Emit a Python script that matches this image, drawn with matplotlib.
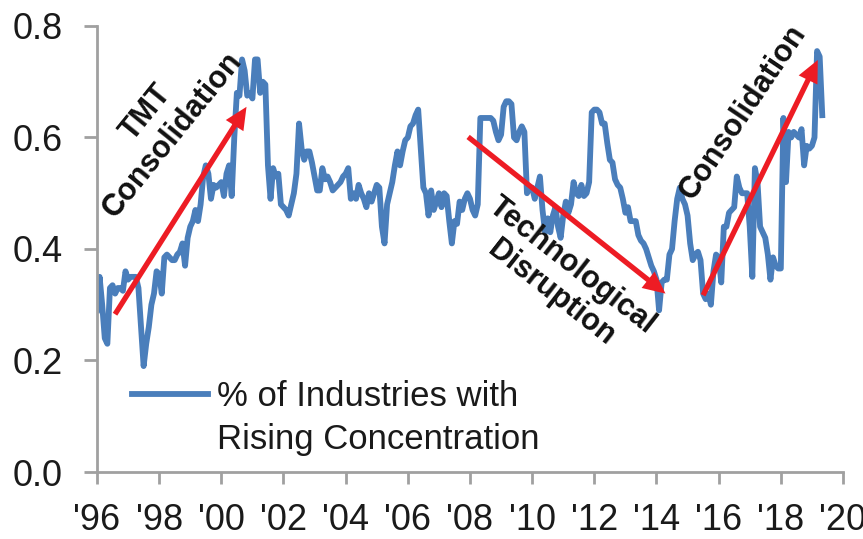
import numpy as np
import matplotlib.pyplot as plt
from matplotlib.legend_handler import HandlerLine2D

# monthly share of industries with rising concentration, starting Jan 1996
share = [
    0.29, 0.35, 0.30, 0.24, 0.23, 0.33, 0.335, 0.32, 0.33, 0.33, 0.325, 0.36,      # 1996
    0.345, 0.35, 0.35, 0.35, 0.33, 0.26, 0.19, 0.23, 0.26, 0.30, 0.32, 0.36,       # 1997
    0.355, 0.32, 0.385, 0.39, 0.385, 0.38, 0.38, 0.39, 0.395, 0.41, 0.37, 0.42,    # 1998
    0.44, 0.45, 0.47, 0.45, 0.48, 0.53, 0.55, 0.535, 0.49, 0.515, 0.51, 0.515,     # 1999
    0.52, 0.495, 0.535, 0.55, 0.495, 0.60, 0.68, 0.675, 0.74, 0.72, 0.675, 0.68,   # 2000
    0.67, 0.74, 0.74, 0.68, 0.70, 0.695, 0.55, 0.49, 0.545, 0.53, 0.535, 0.48,     # 2001
    0.475, 0.47, 0.46, 0.48, 0.50, 0.535, 0.625, 0.58, 0.56, 0.575, 0.575, 0.555,  # 2002
    0.53, 0.505, 0.505, 0.545, 0.525, 0.53, 0.52, 0.505, 0.51, 0.515, 0.52, 0.53,  # 2003
    0.535, 0.545, 0.49, 0.50, 0.49, 0.515, 0.50, 0.49, 0.475, 0.50, 0.485, 0.50,   # 2004
    0.515, 0.51, 0.44, 0.41, 0.48, 0.50, 0.52, 0.55, 0.575, 0.55, 0.575, 0.595,    # 2005
    0.60, 0.62, 0.625, 0.64, 0.65, 0.58, 0.51, 0.50, 0.46, 0.505, 0.47, 0.485,     # 2006
    0.50, 0.475, 0.50, 0.495, 0.45, 0.41, 0.45, 0.445, 0.485, 0.47, 0.49, 0.50,    # 2007
    0.49, 0.47, 0.46, 0.48, 0.635, 0.635, 0.635, 0.635, 0.635, 0.63, 0.61, 0.595,  # 2008
    0.605, 0.655, 0.665, 0.665, 0.66, 0.60, 0.595, 0.61, 0.62, 0.61, 0.50, 0.51,   # 2009
    0.51, 0.49, 0.51, 0.53, 0.47, 0.43, 0.455, 0.43, 0.46, 0.475, 0.44, 0.42,      # 2010
    0.46, 0.485, 0.465, 0.48, 0.52, 0.50, 0.495, 0.515, 0.495, 0.50, 0.52, 0.645,  # 2011
    0.65, 0.65, 0.645, 0.625, 0.625, 0.59, 0.56, 0.555, 0.525, 0.515, 0.51, 0.49,  # 2012
    0.465, 0.475, 0.45, 0.45, 0.45, 0.425, 0.415, 0.41, 0.40, 0.385, 0.37, 0.36,   # 2013
    0.345, 0.29, 0.34, 0.345, 0.345, 0.39, 0.40, 0.45, 0.49, 0.51, 0.49, 0.48,     # 2014
    0.46, 0.41, 0.38, 0.39, 0.395, 0.38, 0.32, 0.31, 0.32, 0.30, 0.36, 0.39,       # 2015
    0.385, 0.34, 0.44, 0.44, 0.465, 0.47, 0.475, 0.53, 0.51, 0.50, 0.50, 0.50,     # 2016
    0.44, 0.35, 0.545, 0.52, 0.44, 0.43, 0.42, 0.39, 0.345, 0.385, 0.37, 0.365,    # 2017
    0.365, 0.635, 0.52, 0.61, 0.60, 0.61, 0.605, 0.60, 0.615, 0.55, 0.585, 0.58,   # 2018
    0.585, 0.60, 0.755, 0.745, 0.64,                                               # 2019
]
start_year = 1996
series_label = "% of Industries with\nRising Concentration"

tick_years = list(range(1996, 2021, 2))
tick_labels = ["'96", "'98", "'00", "'02", "'04", "'06", "'08", "'10", "'12", "'14", "'16", "'18", "'20"]
y_ticks = [0.0, 0.2, 0.4, 0.6, 0.8]

# trend arrows (start, end) and phase captions
arrow_starts = [(1996.58, 0.283), (2007.94, 0.601), (2015.50, 0.317)]
arrow_ends = [(2000.81, 0.655), (2014.29, 0.320), (2019.19, 0.739)]
phase_labels = ["TMT\nConsolidation", "Technological\nDisruption", "Consolidation"]
phase_pos = [(1998.0, 0.625), (2010.95, 0.345), (2016.8, 0.645)]
phase_rot = [51, -38, 56]

blue = "#4A7EBB"
red = "#ED1C24"
grey = "#A0A0A0"

plt.rcParams['font.family'] = ['Liberation Sans', 'DejaVu Sans']


class FirstRowHandler(HandlerLine2D):
    # put the legend line next to the first row of a two-row label
    def create_artists(self, legend, orig_handle, xdescent, ydescent,
                       width, height, fontsize, trans):
        artists = super().create_artists(legend, orig_handle, xdescent, ydescent,
                                         width, height, fontsize, trans)
        for a in artists:
            a.set_ydata(np.asarray(a.get_ydata()) + 0.72 * fontsize)
        return artists


years = start_year + np.arange(len(share)) / 12

fig = plt.figure(figsize=(8.63, 5.39), dpi=100)
ax = fig.add_axes([0.1124, 0.1243, 0.8644, 0.8275])

line, = ax.plot(years, share, color=blue, lw=4.2, solid_joinstyle='round',
                label=series_label)

for (x0, y0), (x1, y1) in zip(arrow_starts, arrow_ends):
    ax.annotate("", xy=(x1, y1), xytext=(x0, y0),
                arrowprops=dict(width=3.8, headwidth=15, headlength=16,
                                shrink=0, color=red, lw=0))

for txt, (x, y), rot in zip(phase_labels, phase_pos, phase_rot):
    ax.text(x, y, txt, rotation=rot, rotation_mode='anchor', ha='center',
            va='center', multialignment='center', fontsize=22,
            fontweight='bold', color='#111111')

ax.set_xlim(1996, 2020)
ax.set_ylim(0, 0.8)
ax.set_xticks(tick_years, labels=tick_labels)
ax.set_yticks(y_ticks, labels=[f"{v:.1f}" for v in y_ticks])

for side in ['top', 'right']:
    ax.spines[side].set_visible(False)
for side in ['left', 'bottom']:
    ax.spines[side].set_color(grey)
    ax.spines[side].set_linewidth(2)

ax.tick_params(axis='x', length=8.6, width=2, color=grey, pad=14,
               labelsize=26, labelcolor='#1a1a1a')
ax.tick_params(axis='y', length=9.4, width=2, color=grey, pad=15,
               labelsize=26, labelcolor='#1a1a1a')

leg = ax.legend(handles=[line], loc='center left',
                bbox_to_anchor=(0.1367, 0.2245), bbox_transform=fig.transFigure,
                frameon=False, fontsize=25, handlelength=2.2, handletextpad=0.25,
                borderaxespad=0, handler_map={line: FirstRowHandler()})
for t in leg.get_texts():
    t.set_linespacing(1.4)
    t.set_color('#1a1a1a')

fig.savefig("out.png", dpi=100)
